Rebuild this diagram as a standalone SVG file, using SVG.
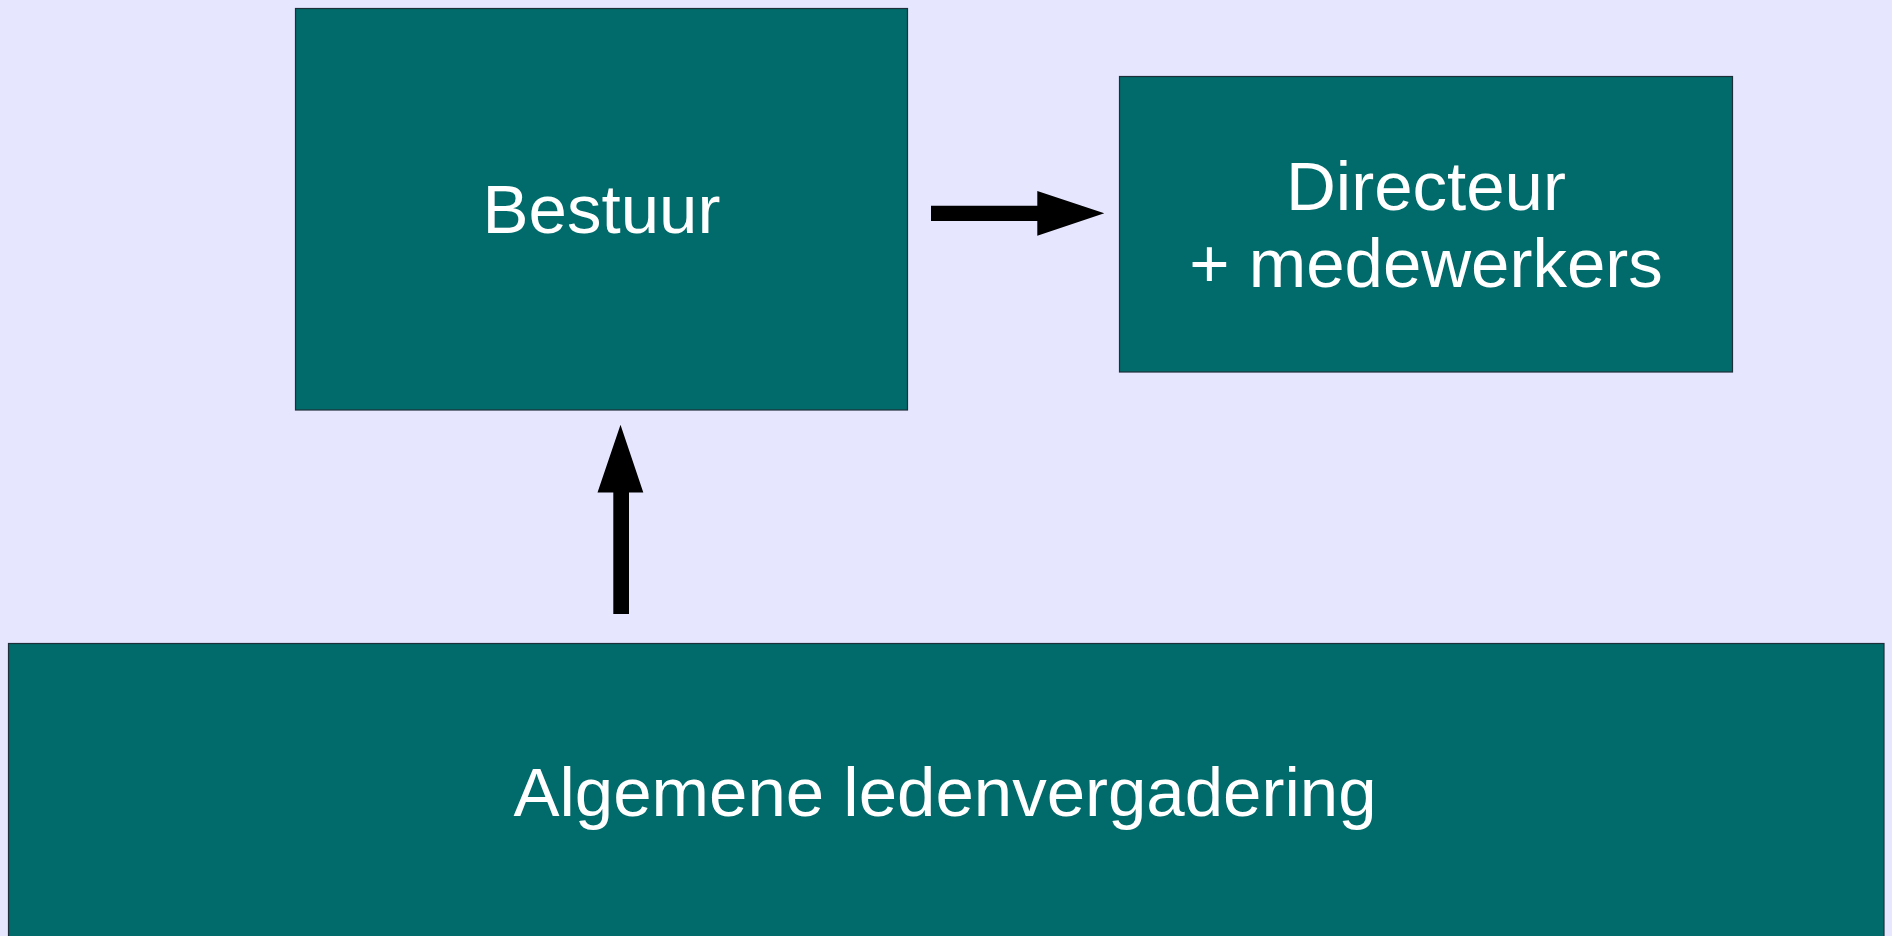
<svg xmlns="http://www.w3.org/2000/svg" width="1892" height="936" viewBox="0 0 1892 936">
<style>
.box{fill:#006b6a;stroke:#1f2f3a;stroke-width:1.2}
.lbl{fill:#ffffff;font-family:"Liberation Sans",Arial,sans-serif;font-size:69px;text-anchor:middle}
.arr{fill:#000000}
</style>
<rect width="1892" height="936" fill="#e6e6ff"/>
<g id="bestuur">
<rect class="box" x="295.5" y="8.5" width="612" height="401.5"/>
<text class="lbl" x="601.5" y="233">Bestuur</text>
</g>
<g id="directeur">
<rect class="box" x="1119.5" y="76.5" width="613" height="295.5"/>
<text class="lbl" x="1426" y="209.5">Directeur</text>
<text class="lbl" x="1426" y="287">+ medewerkers</text>
</g>
<g id="algemene">
<rect class="box" x="8.5" y="643.5" width="1875.5" height="300"/>
<text class="lbl" x="945" y="816">Algemene ledenvergadering</text>
</g>
<g id="connectors">
<polygon class="arr" points="931,205.7 1037.3,205.7 1037.3,191 1104.3,213.3 1037.3,235.7 1037.3,221 931,221"/>
<polygon class="arr" points="613.3,614 613.3,492.5 597.5,492.5 620.5,424.7 643.3,492.5 629,492.5 629,614"/>
</g>
</svg>
